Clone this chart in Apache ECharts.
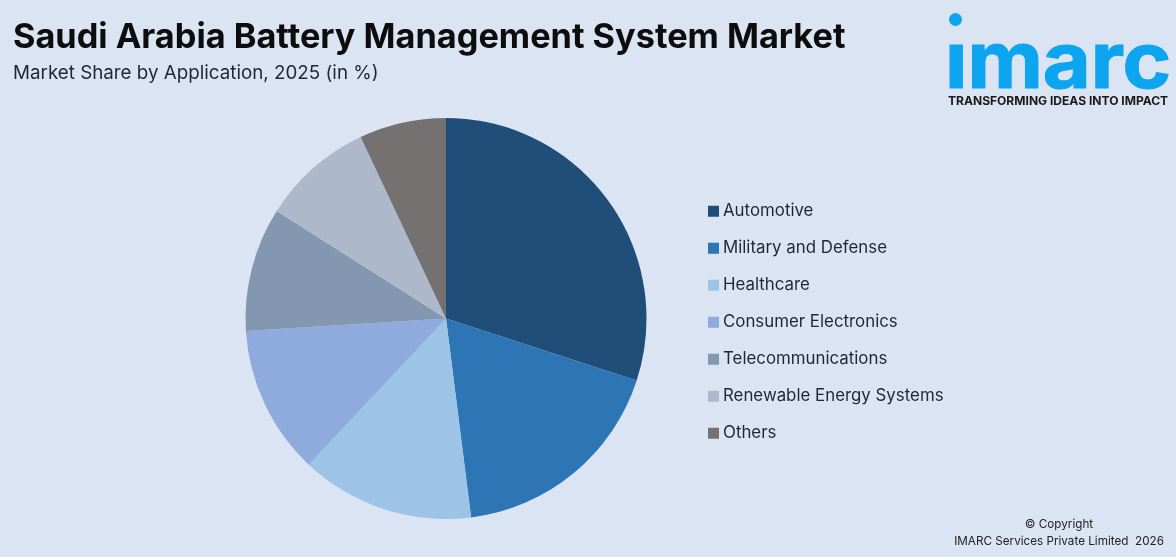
<!DOCTYPE html>
<html>
<head>
<meta charset="utf-8">
<title>Saudi Arabia Battery Management System Market</title>
<script src="https://cdn.jsdelivr.net/npm/echarts@6/dist/echarts.min.js"></script>
<style>
  html, body { margin: 0; padding: 0; background: #dbe4f2; }
  #chart { width: 1176px; height: 557px; }
</style>
</head>
<body>
<div id="chart"></div>
<script>
// Chart data
var categories = ['Automotive', 'Military and Defense', 'Healthcare', 'Consumer Electronics', 'Telecommunications', 'Renewable Energy Systems', 'Others'];
var shares = [30, 18, 14, 12, 10, 9, 7];
var colors = ['#1f4e79', '#2e75b6', '#9dc3e6', '#8faadc', '#8497b0', '#adb9ca', '#767171'];

var chart = echarts.init(document.getElementById('chart'));

chart.setOption({
    animation: false,
    backgroundColor: '#dbe4f2',
    color: colors,
    textStyle: { fontFamily: 'Inter, sans-serif' },

    // Title, subtitle and copyright lines
    title: [
        { text: 'Saudi Arabia Battery Management System Market', left: 8, top: 16,
          textStyle: { fontSize: 34.3, fontWeight: 700, color: '#0d0d0d', fontFamily: 'Inter' } },
        { text: 'Market Share by Application, 2025 (in %)', left: 8, top: 59,
          textStyle: { fontSize: 18.8, fontWeight: 400, color: '#1f2733', fontFamily: 'Inter' } },
        { text: '© Copyright', left: 1054, top: 513, textAlign: 'center',
          textStyle: { fontSize: 11.7, fontWeight: 400, color: '#222', fontFamily: 'Inter' } },
        { text: 'IMARC Services Private Limited  2026', left: 1054, top: 530, textAlign: 'center',
          textStyle: { fontSize: 11.7, fontWeight: 400, color: '#222', fontFamily: 'Inter' } }
    ],

    // Legend on the right
    legend: {
        orient: 'vertical',
        left: 703,
        top: 196,
        itemWidth: 11,
        itemHeight: 11,
        itemGap: 16.5,
        icon: 'rect',
        selectedMode: false,
        data: categories,
        textStyle: { fontSize: 16.85, color: '#1f2733', fontFamily: 'Inter', padding: [0, 0, 0, -1], lineHeight: 20.5 }
    },

    // Logo
    graphic: [
        { type: 'circle', shape: { cx: 955.5, cy: 19.5, r: 6.5 }, style: { fill: '#0ea5f0' } },
        { type: 'text', x: 945, y: 104, scaleX: 1.06, style: { x: 0, y: 0, text: 'ımarc', fill: '#0ea5f0', stroke: '#0ea5f0', lineWidth: 1.2, fontSize: 78, fontWeight: 700, fontFamily: 'Inter', textVerticalAlign: 'bottom' } },
        { type: 'text', style: { x: 948, y: 95, text: 'TRANSFORMING IDEAS INTO IMPACT', fill: '#1a1a1a', fontSize: 12.05, fontWeight: 700, fontFamily: 'Inter' } }
    ],

    series: [{
        type: 'pie',
        center: [446, 318.5],
        radius: ['0%', 200.5],
        startAngle: 90,
        clockwise: true,
        silent: true,
        label: { show: false },
        labelLine: { show: false },
        data: categories.map(function(name, i) {
            return { name: name, value: shares[i] };
        })
    }]
});
</script>
</body>
</html>
